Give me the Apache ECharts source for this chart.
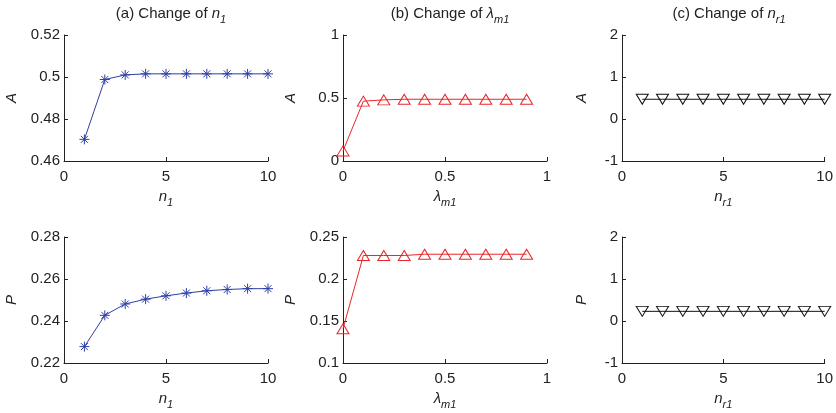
<!DOCTYPE html>
<html><head><meta charset="utf-8">
<script src="https://cdn.jsdelivr.net/npm/echarts@6/dist/echarts.min.js"></script>
<style>html,body{margin:0;padding:0;background:#fff}#c{width:836px;height:413px}</style>
</head><body><div id="c"></div>
<script>
// ---- data ----
const xN1 = [1, 2, 3, 4, 5, 6, 7, 8, 9, 10];
const aN1 = [0.4703, 0.4988, 0.5010, 0.5015, 0.5015, 0.5015, 0.5015, 0.5015, 0.5015, 0.5015];
const pN1 = [0.2278, 0.2427, 0.2481, 0.2504, 0.2520, 0.2533, 0.2544, 0.2550, 0.2554, 0.2554];
const xLam = [0, 0.1, 0.2, 0.3, 0.4, 0.5, 0.6, 0.7, 0.8, 0.9];
const aLam = [0.08, 0.475, 0.485, 0.49, 0.49, 0.49, 0.49, 0.49, 0.49, 0.49];
const pLam = [0.1408, 0.228, 0.228, 0.228, 0.2295, 0.2295, 0.2295, 0.2295, 0.2295, 0.2295];
const xNr1 = [1, 2, 3, 4, 5, 6, 7, 8, 9, 10];
const aNr1 = [0.47, 0.47, 0.47, 0.47, 0.47, 0.47, 0.47, 0.47, 0.47, 0.47];
const pNr1 = [0.23, 0.23, 0.23, 0.23, 0.23, 0.23, 0.23, 0.23, 0.23, 0.23];
const titles = [
  '(a) Change of {i|n}{s|1}',
  '(b) Change of {i|λ}{s|m1}',
  '(c) Change of {i|n}{s|r1}'
];
const xNames = ['{i|n}{s|1}', '{i|λ}{s|m1}', '{i|n}{s|r1}'];
const yNames = ['A', 'P'];

// ---- layout ----
const FONT = 'Liberation Sans, Arial, Helvetica, sans-serif';
const lefts = [64, 343, 622];
const tops = [35, 237];
const W = 204, H = 126;
const rich = {
  t: { fontSize: 15, fontFamily: FONT, color: '#222', verticalAlign: 'top' },
  i: { fontSize: 15, fontFamily: FONT, fontStyle: 'italic', color: '#222', verticalAlign: 'top' },
  s: { fontSize: 11, fontFamily: FONT, fontStyle: 'italic', color: '#222', verticalAlign: 'top', padding: [8, 0, 0, 0] }
};
const xRanges = [
  { min: 0, max: 10, interval: 5 },
  { min: 0, max: 1, interval: 0.5 },
  { min: 0, max: 10, interval: 5 }
];
const yRanges = [
  [{ min: 0.46, max: 0.52, interval: 0.02 }, { min: 0, max: 1, interval: 0.5 }, { min: -1, max: 2, interval: 1 }],
  [{ min: 0.22, max: 0.28, interval: 0.02 }, { min: 0.1, max: 0.25, interval: 0.05 }, { min: -1, max: 2, interval: 1 }]
];
const yGaps = [[45, 45, 33], [45, 45, 33]];
const xData = [xN1, xLam, xNr1];
const yData = [[aN1, aLam, aNr1], [pN1, pLam, pNr1]];
const colors = ['#2E3FA6', '#E8262A', '#111111'];
const ASTER = 'path://M0,-1L0,1M-1,0L1,0M-0.7,-0.7L0.7,0.7M-0.7,0.7L0.7,-0.7';
const symbols = [ASTER, 'triangle', 'triangle'];
const symRot = [0, 0, 180];
const symSizes = [10, [12, 10], [12, 10]];

const grid = [], xAxis = [], yAxis = [], series = [], title = [];
for (let c = 0; c < 3; c++) {
  title.push({
    text: titles[c].replace(/^([^{]+)/, '{t|$1}'),
    left: lefts[c] + W / 2, top: 1, textAlign: 'center',
    textStyle: { rich: rich, fontSize: 15, fontWeight: 'normal' }
  });
}
for (let r = 0; r < 2; r++) {
  for (let c = 0; c < 3; c++) {
    const k = r * 3 + c;
    grid.push({ left: lefts[c], top: tops[r], width: W, height: H, containLabel: false });
    const axisCommon = {
      axisLine: { show: true, onZero: false, lineStyle: { color: '#222', width: 1 } },
      axisTick: { show: true, inside: true, length: 4, lineStyle: { color: '#222' } },
      splitLine: { show: false },
      axisLabel: { fontSize: 15, fontFamily: FONT, color: '#222' }
    };
    xAxis.push(Object.assign({
      gridIndex: k, type: 'value',
      min: xRanges[c].min, max: xRanges[c].max, interval: xRanges[c].interval,
      name: xNames[c], nameLocation: 'middle', nameGap: 28,
      nameTextStyle: { rich: rich }
    }, axisCommon, { axisLabel: Object.assign({}, axisCommon.axisLabel, { margin: 8 }) }));
    yAxis.push(Object.assign({
      gridIndex: k, type: 'value',
      min: yRanges[r][c].min, max: yRanges[r][c].max, interval: yRanges[r][c].interval,
      name: yNames[r], nameLocation: 'middle', nameGap: yGaps[r][c], nameRotate: 90,
      nameTextStyle: { fontSize: 15, fontStyle: 'italic', fontFamily: FONT, color: '#222' }
    }, axisCommon, { axisLabel: Object.assign({}, axisCommon.axisLabel, { margin: 4 }) }));
    series.push({
      type: 'line', xAxisIndex: k, yAxisIndex: k,
      data: xData[c].map((x, i) => [x, yData[r][c][i]]),
      symbol: symbols[c], symbolRotate: symRot[c], symbolSize: symSizes[c],
      showAllSymbol: true,
      lineStyle: { color: colors[c], width: 1 },
      itemStyle: { color: 'rgba(0,0,0,0)', borderColor: colors[c], borderWidth: 1 },
      emphasis: { disabled: true },
      animation: false
    });
  }
}
const chart = echarts.init(document.getElementById('c'), null, { renderer: 'canvas' });
chart.setOption({ animation: false, backgroundColor: '#fff', title, grid, xAxis, yAxis, series });
</script>
</body></html>
